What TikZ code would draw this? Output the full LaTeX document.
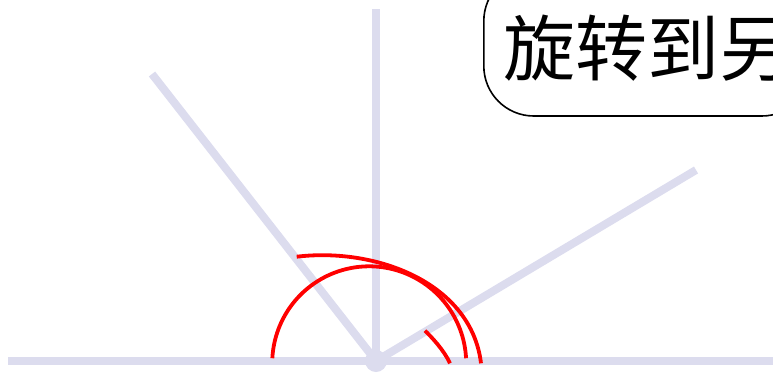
\documentclass[tikz,border=0pt]{standalone}
\usepackage{fontspec}
\newfontfamily\cjk{Noto Sans CJK SC}
\definecolor{lav}{RGB}{220,220,238}
\begin{document}
\begin{tikzpicture}[x=1pt,y=-1pt,
  axisline/.style={line width=8pt, color=lav},
  redarc/.style={line width=3.8pt, color=red},
  titlebox/.style={draw=black, line width=1.6pt, rounded corners=50pt, fill=white,
    inner xsep=20pt, inner ysep=41pt, text depth=0pt, text height=63pt,
    font=\cjk\fontsize{72}{80}\selectfont}]
\useasboundingbox (0,0) rectangle (773,373);
% axes
\coordinate (O) at (376,361);
\coordinate (L) at (8,361);
\coordinate (R) at (790,361);
\coordinate (T) at (376,9);
\coordinate (UL) at (152,74);
\coordinate (UR) at (696,170);
\draw[axisline] (L) -- (R);
\draw[axisline] (O) -- (T);
\draw[axisline] (O) -- (UL);
\draw[axisline] (O) -- (UR);
\fill[lav] (O) circle[radius=11pt];
% red arcs
\draw[redarc] plot[domain=-3:-177, samples=80] ({369.2+97*cos(\x)},{363.3+97*sin(\x)});
\coordinate (a2s) at (296.7,256.7);
\coordinate (a2e) at (481,363.3);
\draw[redarc] (a2s) .. controls (376.7,247.1) and (471.4,283.3) .. (a2e);
\coordinate (a3s) at (425,330.7);
\coordinate (a3e) at (450,363.3);
\draw[redarc] (a3s) .. controls (431,336.5) and (444,350) .. (a3e);
% title
\node[titlebox, anchor=base west] (title) at (483,75) {旋转到另};
\end{tikzpicture}
\end{document}
